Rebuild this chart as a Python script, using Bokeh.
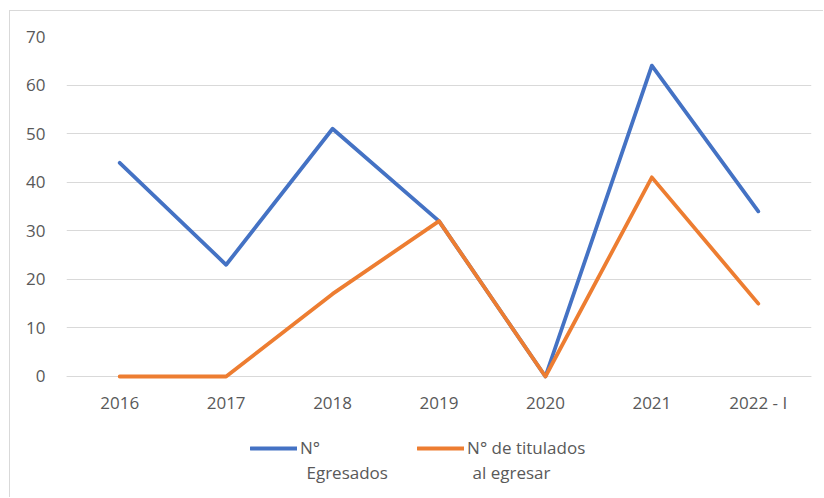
from bokeh.plotting import figure
from bokeh.models import Range1d, FactorRange, Legend, LegendItem, Label, FixedTicker
from bokeh.embed import file_html
from bokeh.resources import INLINE

years = ["2016", "2017", "2018", "2019", "2020", "2021", "2022 - I"]
egresados = [44, 23, 51, 32, 0, 64, 34]
titulados = [0, 0, 17, 32, 0, 41, 15]
y_ticks = [0, 10, 20, 30, 40, 50, 60, 70]

FONT = "Open Sans"
TXT = "#595959"
GRID = "#d9d9d9"

# frame runs to the bottom of the chart so the legend can sit inside it;
# the value axis spans 0..70, extra room below 0 hosts category labels + legend
p = figure(width=814, height=487, x_range=FactorRange(*years, range_padding=0),
           y_range=Range1d(-25.12, 70), output_backend="svg", toolbar_location=None,
           min_border_left=56, min_border_right=13, min_border_top=25, min_border_bottom=0)
p.styles = {"border-left": "1px solid #d9d9d9", "border-top": "1px solid #d9d9d9",
            "margin-left": "9px", "margin-top": "10px"}
p.outline_line_color = None
p.background_fill_color = "white"
p.border_fill_color = "white"

p.xgrid.grid_line_color = None
p.ygrid.grid_line_color = GRID
p.ygrid.grid_line_width = 1
p.ygrid.ticker = FixedTicker(ticks=y_ticks)

p.yaxis.ticker = FixedTicker(ticks=y_ticks)
p.yaxis.axis_line_color = None
p.yaxis.major_tick_line_color = None
p.yaxis.minor_tick_line_color = None
p.yaxis.major_label_standoff = 15
p.xaxis.fixed_location = 0
p.xaxis.axis_line_color = GRID
p.xaxis.major_tick_line_color = None
p.xaxis.minor_tick_line_color = None
p.xaxis.major_label_standoff = 9
for ax in (p.xaxis, p.yaxis):
    ax.major_label_text_font = FONT
    ax.major_label_text_font_size = "17px"
    ax.major_label_text_color = TXT

r1 = p.line(years, egresados, line_color="#4472C4", line_width=3.8,
            line_join="round", line_cap="round", level="overlay")
r2 = p.line(years, titulados, line_color="#ED7D31", line_width=3.8,
            line_join="round", line_cap="round", level="overlay")

legend = Legend(items=[LegendItem(label="N°", renderers=[r1]),
                       LegendItem(label="N° de titulados", renderers=[r2])],
                orientation="horizontal", location=(184, 39),
                glyph_width=47, glyph_height=20, label_standoff=3, spacing=97,
                padding=0, margin=0, border_line_color=None, background_fill_alpha=0,
                label_text_font=FONT, label_text_font_size="17px", label_text_color=TXT)
p.add_layout(legend, "center")

for txt, xx in (("Egresados", 240), ("al egresar", 406)):
    p.add_layout(Label(x=xx, y=26, x_units="screen", y_units="screen", text=txt,
                       text_font=FONT, text_font_size="17px", text_color=TXT,
                       text_baseline="middle"))

open("out.html", "w").write(file_html(p, INLINE))
